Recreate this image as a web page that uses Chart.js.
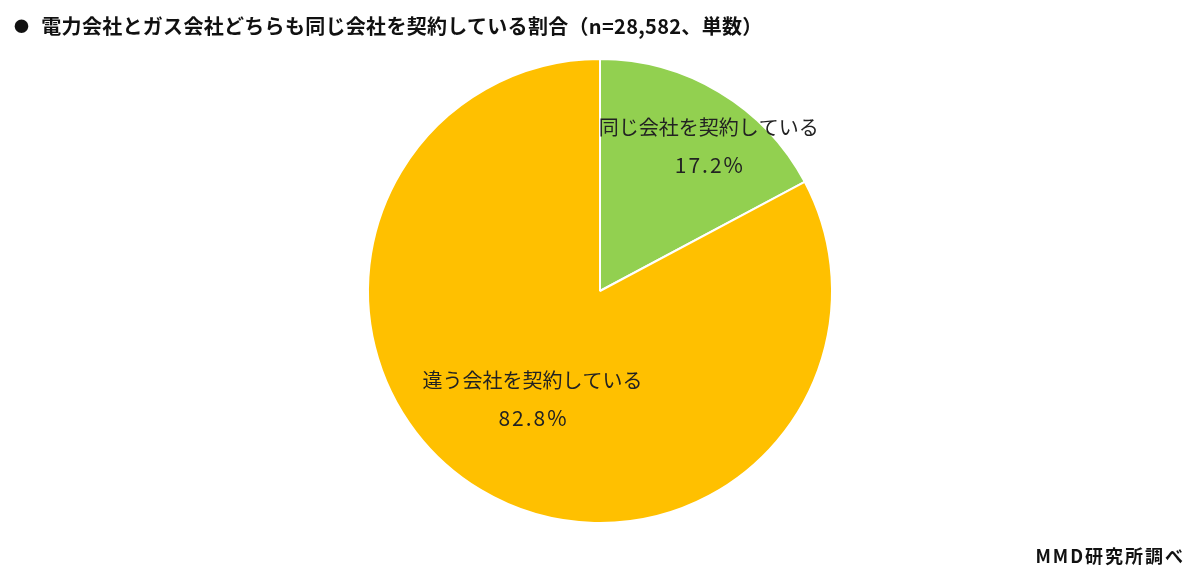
<!DOCTYPE html>
<html>
<head>
<meta charset="utf-8">
<script src="https://cdn.jsdelivr.net/npm/chart.js@4"></script>
<style>
  html, body { margin: 0; padding: 0; background: #fff; }
  body { width: 1200px; height: 583px; position: relative; overflow: hidden; font-family: "Noto Sans CJK JP", sans-serif; }
  #title { position: absolute; left: 14px; top: 11px; font-size: 20px; line-height: 30px; font-weight: bold; color: #111; white-space: nowrap; letter-spacing: 0.3px; }
  #title .dot { font-size: 15px; vertical-align: 2px; margin-right: 12px; }
  #source { position: absolute; right: 15px; top: 541px; font-size: 18px; line-height: 28px; font-weight: bold; color: #111; letter-spacing: 2px; }
  #wrap { position: absolute; left: 0; top: 0; width: 1200px; height: 583px; }
</style>
</head>
<body>
<div id="wrap"><canvas id="pie-chart"></canvas></div>
<div id="title"><span class="dot">●</span>電力会社とガス会社どちらも同じ会社を契約している割合（n=28,582、単数）</div>
<div id="source">MMD研究所調べ</div>
<script>
// データ
const labels = ['同じ会社を契約している', '違う会社を契約している'];
const values = [17.2, 82.8];
const colors = ['#92D050', '#FFC000'];
// ラベル位置（半径に対する割合と角度のずれ）
const labelRadius = [0.78, 0.55];
const labelShift = [6, 1];

// スライスの上にラベルを描く
const sliceLabels = {
  id: 'sliceLabels',
  afterDatasetsDraw(chart) {
    const ctx = chart.ctx;
    const meta = chart.getDatasetMeta(0);
    ctx.save();
    ctx.fillStyle = '#222';
    ctx.textAlign = 'center';
    ctx.textBaseline = 'middle';
    meta.data.forEach((arc, i) => {
      const p = arc.getProps(['x', 'y', 'startAngle', 'endAngle', 'outerRadius']);
      const a = (p.startAngle + p.endAngle) / 2 + labelShift[i] * Math.PI / 180;
      const r = p.outerRadius * labelRadius[i];
      const x = p.x + Math.cos(a) * r;
      const y = p.y + Math.sin(a) * r;
      ctx.font = '20px "Noto Sans CJK JP"';
      ctx.letterSpacing = '0px';
      ctx.fillText(labels[i], x, y - 19);
      ctx.font = '21px "Noto Sans CJK JP"';
      ctx.letterSpacing = '2px';
      ctx.fillText(values[i].toFixed(1) + '%', x + 1, y + 19);
    });
    ctx.restore();
  }
};

const ctx = document.getElementById('pie-chart').getContext('2d');
new Chart(ctx, {
  type: 'pie',
  data: {
    labels: labels,
    datasets: [{
      data: values,
      backgroundColor: colors,
      borderColor: '#fff',
      borderWidth: 2
    }]
  },
  options: {
    responsive: true,
    maintainAspectRatio: false,
    animation: false,
    layout: { padding: { top: 58, bottom: 59 } },
    plugins: {
      legend: { display: false },
      tooltip: { enabled: false }
    }
  },
  plugins: [sliceLabels]
});
</script>
</body>
</html>
